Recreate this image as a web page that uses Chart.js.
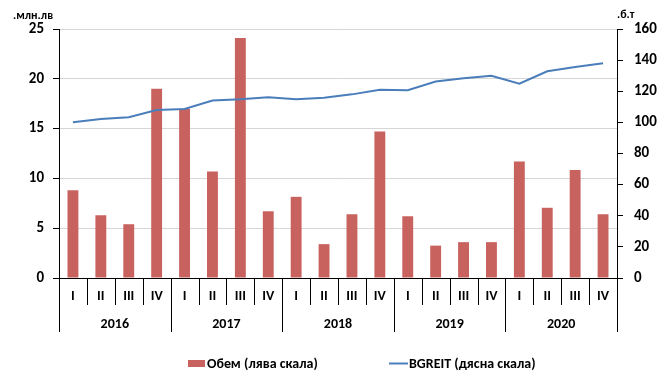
<!DOCTYPE html>
<html>
<head>
<meta charset="utf-8">
<script src="https://cdn.jsdelivr.net/npm/chart.js@4/dist/chart.umd.min.js"></script>
<style>
  html,body{margin:0;padding:0;background:#fff;}
  #wrap{width:665px;height:377px;}
</style>
</head>
<body>
<div id="wrap"><canvas id="c" width="665" height="377"></canvas></div>
<script>
/* -------- data -------- */
const years    = ["2016","2017","2018","2019","2020"];
const quarters = ["I","II","III","IV"];
const volume   = [8.8,6.3,5.4,19.0, 17.0,10.7,24.1,6.7, 8.15,3.4,6.4,14.7, 6.2,3.25,3.6,3.6, 11.7,7.05,10.85,6.4];
const bgreit   = [100.1,102.2,103.3,108.0, 108.6,114.0,114.8,116.1, 114.8,115.9,118.0,121.0, 120.6,126.2,128.3,130.0, 124.9,132.8,135.6,138.0];
const leftTicks  = {min:0, max:25, step:5};
const rightTicks = {min:0, max:160, step:20};
const volumeLabel = "Обем (лява скала)";
const bgreitLabel = "BGREIT (дясна скала)";
const leftTitle  = ".млн.лв";
const rightTitle = ".б.т";

const labels = [];
years.forEach(y => quarters.forEach(q => labels.push(q)));

const FONT = "Carlito, Lato, sans-serif";
const barColor  = "#c8625f";
const lineColor = "#4a7ebb";

/* -------- two-level category axis, titles, legend -------- */
const decor = {
  id:"decor",
  afterDraw(chart){
    const ctx = chart.ctx, x = chart.scales.x, a = chart.chartArea;
    const n = labels.length, w = (a.right - a.left) / n;
    const base = a.bottom, qEnd = base + 27, yEnd = base + 54;
    ctx.save();
    ctx.strokeStyle = "#000"; ctx.lineWidth = 1;
    ctx.beginPath();
    ctx.moveTo(a.left, base + .5); ctx.lineTo(a.right, base + .5);
    for (let i = 0; i <= n; i++) {
      const px = Math.round(a.left + i * w) + .5;
      ctx.moveTo(px, base);
      ctx.lineTo(px, i % quarters.length === 0 ? yEnd : qEnd);
    }
    ctx.stroke();

    ctx.fillStyle = "#000";
    ctx.textAlign = "center"; ctx.textBaseline = "middle";
    ctx.font = "bold 14px " + FONT;
    labels.forEach((l, i) => ctx.fillText(l, x.getPixelForValue(i), base + 18));
    years.forEach((y, i) => {
      const cx = a.left + (i + .5) * quarters.length * w;
      ctx.fillText(y, cx, base + 46);
    });

    // axis titles
    ctx.font = "bold 12px " + FONT;
    ctx.textAlign = "left";
    ctx.fillText(leftTitle, 13, 16);
    ctx.fillText(rightTitle, 617, 15);

    // legend
    ctx.font = "bold 14px " + FONT;
    ctx.fillStyle = barColor;
    ctx.fillRect(188, 360, 17, 7);
    ctx.fillStyle = "#000";
    ctx.fillText(volumeLabel, 207, 364);
    ctx.strokeStyle = lineColor; ctx.lineWidth = 2;
    ctx.beginPath(); ctx.moveTo(389, 363.5); ctx.lineTo(408, 363.5); ctx.stroke();
    ctx.fillText(bgreitLabel, 409, 364);
    ctx.restore();
  }
};

new Chart(document.getElementById("c"), {
  data:{
    labels,
    datasets:[
      {type:"line", label:bgreitLabel, data:bgreit, yAxisID:"y1",
       borderColor:lineColor, borderWidth:2, pointRadius:0, tension:0, order:1},
      {type:"bar", label:volumeLabel, data:volume, yAxisID:"y",
       backgroundColor:barColor, categoryPercentage:1, barPercentage:.39, order:2}
    ]
  },
  options:{
    responsive:false, animation:false, devicePixelRatio:1,
    layout:{padding:{top:29, bottom:99, left:0, right:0}},
    plugins:{legend:{display:false}, tooltip:{enabled:false}},
    scales:{
      x:{display:false, offset:true},
      y:{
        position:"left", min:leftTicks.min, max:leftTicks.max,
        ticks:{stepSize:leftTicks.step, color:"#000", padding:9, font:{family:FONT, size:15, weight:"bold"}},
        grid:{color:"#d6d6d6", tickColor:"#000", tickLength:6},
        border:{color:"#000"},
        afterFit(s){ s.width = 59; }
      },
      y1:{
        position:"right", min:rightTicks.min, max:rightTicks.max,
        ticks:{stepSize:rightTicks.step, color:"#000", padding:11, font:{family:FONT, size:15, weight:"bold"}},
        grid:{drawOnChartArea:false, tickColor:"#000", tickLength:6},
        border:{color:"#000"},
        afterFit(s){ s.width = 48; }
      }
    }
  },
  plugins:[decor]
});
</script>
</body>
</html>
